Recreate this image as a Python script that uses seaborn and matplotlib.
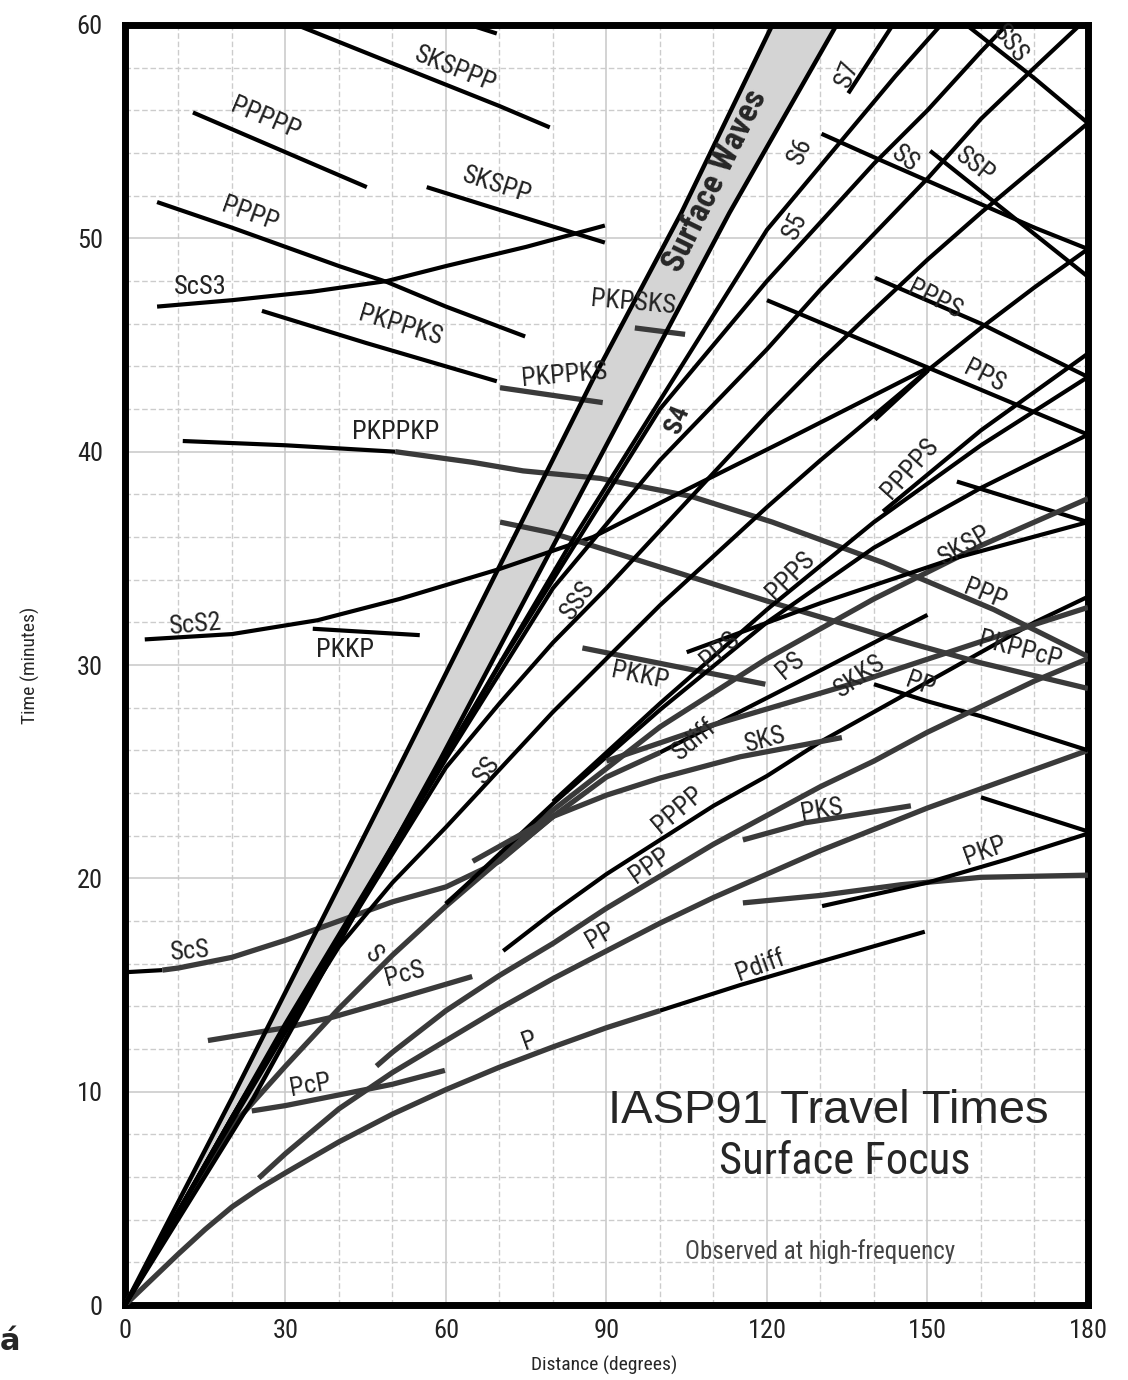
import matplotlib
matplotlib.use('Agg')
import numpy as np
import pandas as pd
import matplotlib.pyplot as plt
from matplotlib import font_manager as fm
import seaborn as sns

sns.set_style('white')


def has_font(name):
    try:
        fm.findfont(fm.FontProperties(family=name), fallback_to_default=False)
        return True
    except ValueError:
        return False


narrow = [f for f in ['Liberation Sans Narrow', 'DejaVu Sans Condensed', 'Roboto Condensed'] if has_font(f)]
if narrow:
    FONT = narrow[0]
    SCALE = 1.0
else:
    FONT = 'Liberation Sans'
    SCALE = 0.86
plt.rcParams['font.family'] = [FONT, 'DejaVu Sans']

## Branches (distance in degrees, time in minutes)
P = [(0, 0), (5, 1.2), (10, 2.4), (15, 3.55), (20, 4.6), (25, 5.45), (30, 6.2), (40, 7.65), (50, 8.95),
     (60, 10.1), (70, 11.15), (80, 12.1), (90, 13.0), (100, 13.8)]
Pdiff = [(100, 13.8), (115, 15.0), (130, 16.1), (149.5, 17.5)]
PcP = [(23.7, 9.1), (30, 9.35), (40, 9.85), (50, 10.35), (59.8, 11.0)]
PP = [(25, 5.95), (30, 7.1), (40, 9.2), (50, 10.9), (60, 12.4), (70, 13.9), (80, 15.3), (90, 16.6),
      (100, 17.9), (110, 19.1), (120, 20.2), (130, 21.3), (140, 22.3), (150, 23.3), (160, 24.2),
      (170, 25.1), (180, 26.0)]
PP_major = [(140, 29.1), (150, 28.3), (160, 27.6), (170, 26.8), (180, 26.0)]
PPP = [(47, 11.2), (50, 11.85), (60, 13.8), (70, 15.45), (80, 16.95), (90, 18.6), (100, 20.1), (110, 21.6),
       (120, 22.95), (130, 24.3), (140, 25.5), (150, 26.85), (160, 28.05), (170, 29.25), (180, 30.3)]
PPPP = [(70.7, 16.6), (80, 18.4), (90, 20.2), (100, 21.8), (110, 23.4), (120, 24.8), (130, 26.4),
        (140, 27.8), (150, 29.2), (160, 30.6), (170, 32.0), (180, 33.2)]
PPPP_major = [(6, 51.7), (20, 50.5), (40, 48.7), (49, 47.95), (60, 46.8), (74.8, 45.4)]
PPPPP_major = [(12.7, 55.9), (45.2, 52.4)]
SKSPPP = [(32.1, 60), (50, 58.2), (70, 56.2), (79.4, 55.2)]
top_stub = [(64.5, 60), (69.5, 59.6)]
SKSPP = [(56.4, 52.4), (73, 51.1), (89.7, 49.8)]
ScS3 = [(6, 46.8), (20, 47.1), (35, 47.5), (49, 48.0), (60, 48.7), (75, 49.6), (89.7, 50.6)]
PKPPKS = [(25.6, 46.6), (45, 45.1), (69.5, 43.3)]
PKPPKS_b = [(70.1, 43.0), (89.3, 42.3)]
PKPSKS = [(95.3, 45.8), (104.7, 45.5)]
PKPPKP_a = [(10.8, 40.5), (30, 40.3), (50.5, 40.0)]
PKPPKP_b = [(50.5, 40.0), (65, 39.5), (74.4, 39.1), (88.8, 38.75), (105.9, 37.9), (121, 36.7),
            (141.7, 34.8), (162.4, 32.6), (180, 30.4)]
ScS2 = [(3.7, 31.2), (20, 31.45), (36, 32.1), (51.4, 33.1), (70, 34.5), (87.5, 36.0), (102.4, 37.9),
        (122.4, 40.4), (149.9, 43.9)]
PKKP_a = [(35.1, 31.7), (55.1, 31.4)]
PKKP_b = [(85.5, 30.8), (119.7, 29.1)]
PKPPcP = [(70.1, 36.7), (79.7, 36.2), (103.7, 34.3), (120, 33.0), (140, 31.5), (160, 30.1), (180, 28.9)]
S = [(0, 0), (10, 4.3), (20, 8.4), (30, 11.2), (40, 13.9), (50, 16.4), (60, 18.7), (70, 20.85),
     (80, 22.9), (90, 24.75), (100, 25.9)]
Sdiff = [(100, 25.9), (125, 29.1), (150, 32.35)]
ScS_a = [(0, 15.6), (7, 15.7)]
ScS_b = [(7, 15.7), (10, 15.8), (20, 16.3), (30, 17.1), (40, 18.0), (50, 18.9), (60, 19.6), (70, 20.8),
         (80, 22.9)]
PcS = [(15.5, 12.4), (30, 13.0), (38.9, 13.5), (50, 14.3), (64.9, 15.4)]
SS = [(0, 0), (10, 4.4), (20, 8.6), (30, 12.8), (40, 16.8), (50, 19.8), (60, 22.4), (70, 25.1), (80, 27.8),
      (90, 30.3), (100, 32.8), (110, 35.1), (120, 37.4), (130, 39.6), (140, 41.7), (150, 43.8),
      (160, 45.8), (170, 47.7), (180, 49.5)]
SS_major = [(130.2, 54.9), (140, 53.8), (150, 52.7), (160, 51.6), (170, 50.5), (180, 49.5)]
SSS = [(0, 0), (10, 4.4), (20, 8.7), (30, 12.9), (40, 17.1), (50, 21.15), (60, 25.2), (70, 28.2),
       (80, 31.05), (90, 33.6), (100, 36.3), (110, 39.0), (120, 41.7), (130, 44.25), (140, 46.65),
       (150, 49.0), (160, 51.2), (170, 53.3), (180, 55.4)]
SSS_major = [(157.3, 60), (170, 57.5), (180, 55.4)]
S4 = [(0, 0), (20, 8.8), (40, 17.2), (60, 25.6), (80, 33.6), (90, 36.6), (100, 39.6), (110, 42.2),
      (120, 44.8), (130, 47.6), (140, 50.2), (150, 52.8), (160, 55.6), (170, 58.0), (178.5, 60)]
S5 = [(0, 0), (20, 8.8), (40, 17.25), (50, 21.5), (60, 25.75), (70, 30.0), (80, 34.0), (90, 38.0),
      (100, 42.0), (110, 45.0), (120, 48.0), (130, 50.75), (140, 53.5), (150, 56.0), (160, 58.75),
      (164.8, 60)]
S6 = [(0, 0), (30, 13.2), (48, 20.7), (60, 25.8), (72, 30.9), (84, 36.0), (96, 40.8), (108, 45.6),
      (120, 50.4), (132, 54.0), (144, 57.6), (152.5, 60)]
S7 = [(135.2, 56.8), (143.5, 60)]
SSP_major = [(150.5, 54.1), (180, 48.2)]
PPPS_major = [(140.2, 48.15), (160, 46.0), (180, 43.5)]
PPS_major = [(120, 47.1), (140, 45.0), (160, 42.9), (180, 40.8)]
SKSP_major = [(155.5, 38.6), (180, 36.7)]
PS = [(60, 18.8), (80, 23.2), (100, 27.1), (120, 30.3), (140, 33.1), (160, 35.6), (180, 37.8)]
PPS = [(60, 18.8), (80, 23.5), (100, 27.9), (120, 32.0), (140, 35.5), (160, 38.3), (180, 40.8)]
PPPS = [(80, 23.6), (100, 28.2), (120, 32.6), (140, 36.7), (160, 40.3), (180, 43.5)]
PPPPS = [(141.7, 37.2), (160, 41.0), (180, 44.6)]
stub2 = [(140.2, 41.5), (150.1, 43.8)]
SKSP = [(105, 30.6), (130, 32.9), (155, 35.0), (180, 36.7)]
SKKS = [(90, 25.5), (110, 27.2), (137, 29.2), (160, 31.1), (180, 32.7)]
SKS = [(65, 20.8), (80, 22.9), (90, 23.9), (100, 24.7), (115, 25.7), (134, 26.6)]
PKIKP = [(115.5, 18.85), (130, 19.2), (145, 19.7), (160, 20.05), (180, 20.15)]
PKP_bc = [(130.3, 18.7), (150, 19.8), (165, 20.9), (180, 22.1)]
PKP_major = [(160, 23.8), (170, 23.0), (180, 22.2)]
PKS = [(115.5, 21.8), (127, 22.6), (146.9, 23.4)]

# surface-wave band edges
band_left = [(0, 0), (20, 9.7), (52, 25.6), (87.5, 43.4), (104, 51.2), (121, 60)]
band_right = [(0, 0), (24, 9.7), (59, 25.6), (96.5, 43.4), (113, 51.2), (133, 60)]

BLACK = '#000000'
GRAY = '#3a3a3a'

branches = [
    (P, GRAY), (Pdiff, BLACK), (PcP, GRAY), (PP, GRAY), (PP_major, BLACK), (PPP, GRAY),
    (PPPP, BLACK), (PPPP_major, BLACK), (PPPPP_major, BLACK), (SKSPPP, BLACK), (top_stub, BLACK),
    (SKSPP, BLACK), (ScS3, BLACK), (PKPPKS, BLACK), (PKPPKS_b, GRAY), (PKPSKS, GRAY),
    (PKPPKP_a, BLACK), (PKPPKP_b, GRAY), (ScS2, BLACK), (PKKP_a, BLACK), (PKKP_b, GRAY),
    (PKPPcP, GRAY), (S, GRAY), (Sdiff, BLACK), (ScS_a, BLACK), (ScS_b, GRAY), (PcS, GRAY),
    (SS, BLACK), (SS_major, BLACK), (SSS, BLACK), (SSS_major, BLACK), (S4, BLACK), (S5, BLACK),
    (S6, BLACK), (S7, BLACK), (SSP_major, BLACK), (PPPS_major, BLACK), (PPS_major, BLACK),
    (SKSP_major, BLACK), (PS, GRAY), (PPS, BLACK), (PPPS, BLACK), (PPPPS, BLACK), (stub2, BLACK),
    (SKSP, BLACK), (SKKS, GRAY), (SKS, GRAY), (PKIKP, GRAY), (PKP_bc, BLACK), (PKP_major, BLACK),
    (PKS, GRAY),
]

labels = [
    ('SKSPPP', 61.7, 57.9, -22), ('PPPPP', 26.2, 55.6, -23), ('SKSPP', 69.5, 52.5, -18),
    ('PPPP', 23.4, 51.1, -20), ('ScS3', 14.0, 47.7, 0), ('PKPPKS', 51.4, 45.9, -17),
    ('PKPSKS', 95.0, 47.0, -5), ('PKPPKS', 82.2, 43.6, 5), ('PKPPKP', 50.5, 40.9, 0),
    ('ScS2', 13.1, 31.9, 5), ('PKKP', 41.1, 30.7, 0), ('SSS', 84.7, 33.05, 55),
    ('S5', 125.2, 50.6, 65), ('S6', 126.2, 54.1, 65), ('S7', 135.1, 57.7, 68),
    ('SS', 145.8, 53.7, -38), ('SSP', 158.9, 53.4, -38), ('SSS', 165.4, 59.1, -52),
    ('PPPS', 151.4, 47.1, -27), ('PPS', 160.7, 43.5, -27), ('PPPPS', 146.7, 39.2, 48),
    ('SKSP', 157.0, 35.6, 30), ('PPP', 160.7, 33.3, -22), ('PKPPcP', 167.3, 30.7, -15),
    ('PPPS', 124.3, 34.2, 45), ('PPS', 111.2, 30.7, 40), ('PS', 124.3, 30.0, 40),
    ('SKKS', 137.4, 29.5, 35), ('PP', 148.6, 29.1, -20), ('PKKP', 96.3, 29.5, -12),
    ('Sdiff', 106.5, 26.5, 40), ('SKS', 119.6, 26.5, 15), ('SS', 67.7, 25.1, 55),
    ('PPPP', 103.4, 23.2, 40), ('PKS', 130.3, 23.2, 10), ('PKP', 160.7, 21.3, 20),
    ('PPP', 98.1, 20.6, 35), ('PP', 88.8, 17.3, 30), ('Pdiff', 118.7, 15.9, 20),
    ('P', 75.7, 12.4, 20), ('PcS', 52.3, 15.5, 15), ('S', 46.4, 16.4, -45),
    ('ScS', 12.1, 16.6, 5), ('PcP', 34.6, 10.3, 10),
]

fig = plt.figure(figsize=(11.28, 13.8), dpi=100)
ax = fig.add_axes([0.1108, 0.0543, 0.8537, 0.9276])

ax.set_xlim(0, 180)
ax.set_ylim(0, 60)
ax.set_xticks(np.arange(0, 181, 30))
ax.set_yticks(np.arange(0, 61, 10))
ax.set_xticks(np.arange(0, 181, 10), minor=True)
ax.set_yticks(np.arange(0, 61, 2), minor=True)
ax.grid(which='major', color='#c8c8c8', lw=1.1, ls='-')
ax.grid(which='minor', color='#cccccc', lw=1.0, ls=(0, (4, 2)))
ax.set_axisbelow(True)
ax.tick_params(which='both', length=0, labelsize=19 * SCALE, colors='#222222')
ax.tick_params(axis='x', pad=10)
ax.tick_params(axis='y', pad=16)
for sp in ax.spines.values():
    sp.set_linewidth(5)
    sp.set_color('black')

# surface waves band
bl = pd.DataFrame(band_left, columns=['deg', 'min'])
br = pd.DataFrame(band_right, columns=['deg', 'min'])
ax.fill(list(bl['deg']) + list(br['deg'][::-1]), list(bl['min']) + list(br['min'][::-1]),
        color='#d4d4d4', zorder=2, lw=0)
for edge in (bl, br):
    sns.lineplot(data=edge, x='deg', y='min', ax=ax, color=BLACK, lw=3.2, sort=False,
                 estimator=None, zorder=4)

for pts, col in branches:
    df = pd.DataFrame(pts, columns=['deg', 'min'])
    sns.lineplot(data=df, x='deg', y='min', ax=ax, color=col, lw=3.8 if col == GRAY else 3.0,
                 sort=False, estimator=None, zorder=3, solid_capstyle='butt')

for txt, x, y, rot in labels:
    ax.text(x, y, txt, fontsize=19 * SCALE, rotation=rot, ha='center', va='center',
            rotation_mode='anchor', color='#222222', zorder=6)
ax.text(103.4, 41.5, 'S4', fontsize=19 * SCALE, fontweight='bold', rotation=68, ha='center',
        va='center', rotation_mode='anchor', zorder=6)
ax.text(110.3, 52.7, 'Surface Waves', fontsize=24 * SCALE, fontweight='bold', rotation=64,
        ha='center', va='center', rotation_mode='anchor', zorder=6)

ax.text(131.5, 9.1, 'IASP91 Travel Times', fontsize=34, ha='center', va='center', zorder=6,
        family=['Liberation Sans', 'DejaVu Sans'])
ax.text(134.5, 6.7, 'Surface Focus', fontsize=32 * SCALE, ha='center', va='center', zorder=6)
ax.text(130.0, 2.5, 'Observed at high-frequency', fontsize=18 * SCALE, ha='center', va='center',
        color='#444444', zorder=6)

ax.set_xlabel('Distance (degrees)', fontsize=14 * SCALE)
ax.set_ylabel('Time (minutes)', fontsize=14 * SCALE)
ax.xaxis.set_label_coords(0.498, -0.04)
ax.yaxis.set_label_coords(-0.088, 0.5)

fig.text(0.0, 0.0217, 'á', fontsize=22, fontweight='bold', family=['DejaVu Sans'])

fig.savefig('out.png', dpi=100)
